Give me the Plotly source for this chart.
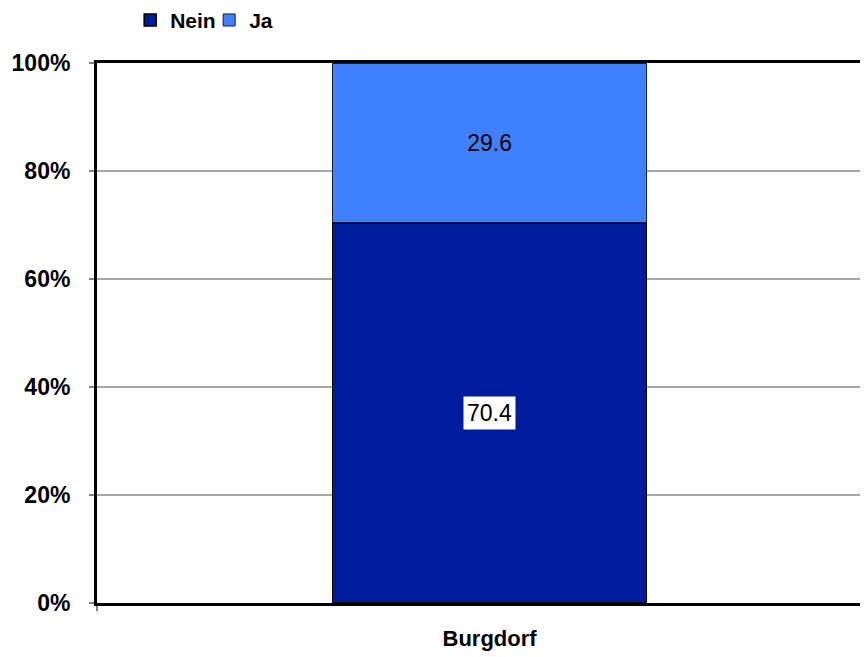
import plotly.graph_objects as go

categories = ["Burgdorf"]
nein_values = [70.4]
ja_values = [29.6]
y_tickvals = [0, 20, 40, 60, 80, 100]
y_ticktext = ["0%", "20%", "40%", "60%", "80%", "100%"]

FONT = "Liberation Sans, Arial, sans-serif"
NEIN_COLOR = "#001C9E"
JA_COLOR = "#4080FF"

fig = go.Figure()
fig.add_trace(go.Bar(
    name="Nein", x=categories, y=nein_values,
    marker=dict(color=NEIN_COLOR, line=dict(color="#000000", width=1.5)),
    width=0.4, hoverinfo="y",
))
fig.add_trace(go.Bar(
    name="Ja", x=categories, y=ja_values,
    marker=dict(color=JA_COLOR, line=dict(color="#1a1a40", width=1)),
    width=0.4, hoverinfo="y",
    text=[f"{v:.1f}" for v in ja_values], textposition="inside",
    insidetextanchor="middle",
    textfont=dict(family=FONT, size=23, color="#000000"),
))

# boxed label for the Nein segment, placed at its middle
for c, v in zip(categories, nein_values):
    fig.add_annotation(
        x=c, y=v / 2, text=f"{v:.1f}", showarrow=False,
        font=dict(family=FONT, size=23, color="#000000"),
        bgcolor="#FFFFFF", borderpad=3,
    )

fig.update_layout(
    width=860, height=649,
    barmode="stack",
    paper_bgcolor="#FFFFFF", plot_bgcolor="#FFFFFF",
    margin=dict(l=89, r=0, t=55, b=54, autoexpand=False),
    showlegend=True,
    legend=dict(
        orientation="h", x=0.043, xanchor="left",
        yref="container", y=0.981, yanchor="middle",
        font=dict(family=FONT, size=21, color="#000000", weight="bold"),
        itemwidth=30, traceorder="normal", itemclick=False,
        entrywidth=34, entrywidthmode="pixels",
    ),
    xaxis=dict(
        type="category", range=[-0.5, 0.482],
        showline=True, linecolor="#000000", linewidth=3, mirror=True,
        showgrid=False, ticks="outside", tickson="boundaries",
        ticklen=5, tickcolor="#808080", tickwidth=2,
        tickfont=dict(family=FONT, size=22, color="#000000", weight="bold"),
        ticklabelstandoff=14,
    ),
    yaxis=dict(
        range=[0, 100], tickvals=y_tickvals, ticktext=y_ticktext,
        showline=True, linecolor="#000000", linewidth=3,
        showgrid=True, gridcolor="#A8A8A8", gridwidth=2,
        zeroline=False,
        ticks="outside", ticklen=5, tickcolor="#808080", tickwidth=2,
        tickfont=dict(family=FONT, size=23, color="#000000", weight="bold"),
        ticklabelstandoff=14,
    ),
)

fig.write_html("out.html")
